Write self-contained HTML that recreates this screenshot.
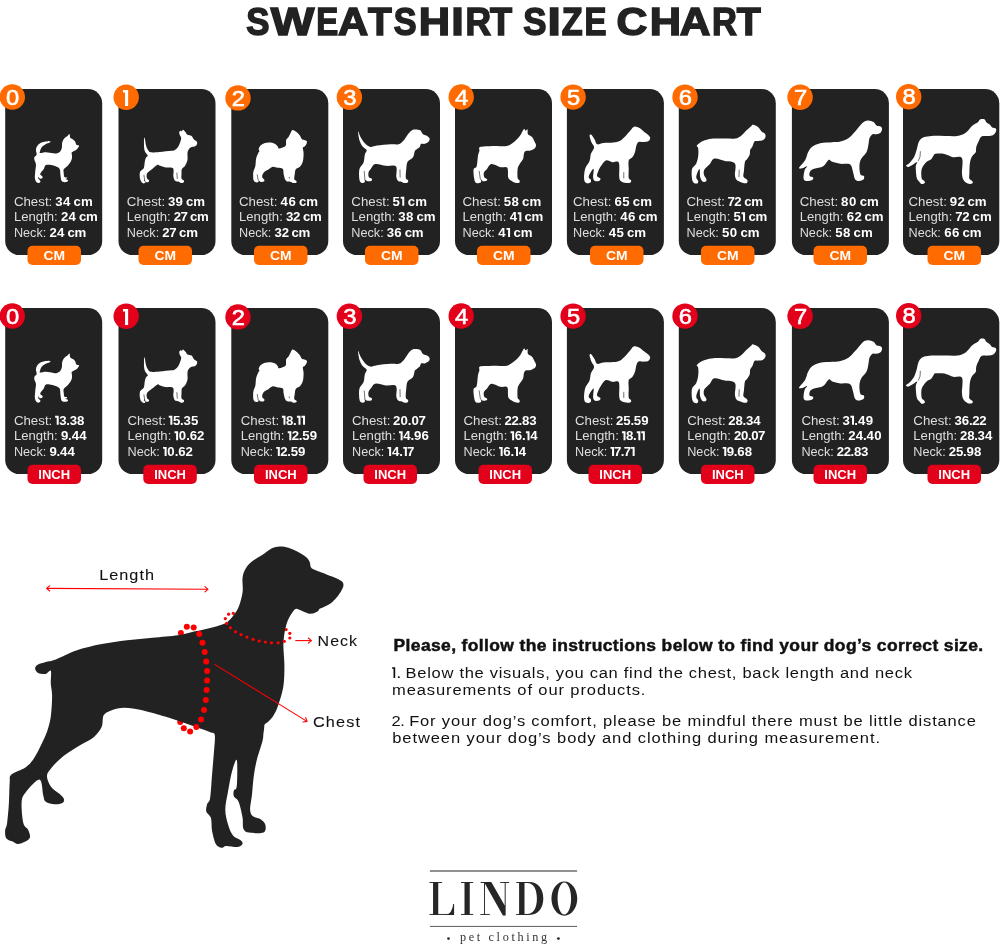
<!DOCTYPE html>
<html><head><meta charset="utf-8"><title>Sweatshirt Size Chart</title>
<style>html,body{margin:0;padding:0;background:#fff}body{width:1000px;height:944px;overflow:hidden;font-family:"Liberation Sans",sans-serif}svg{display:block;will-change:transform}text{font-family:"Liberation Sans",sans-serif}.serif{font-family:"Liberation Serif",serif}</style></head><body>
<svg width="1000" height="944" viewBox="0 0 1000 944">
<rect width="1000" height="944" fill="#ffffff"/>
<text transform="translate(246.35,34.8) scale(0.894,1)" font-size="39" font-weight="bold" fill="#222222" stroke="#222222" stroke-width="1.5" stroke-linejoin="miter">S</text>
<text transform="translate(270.70,34.8) scale(1.184,1)" font-size="39" font-weight="bold" fill="#222222" stroke="#222222" stroke-width="1.5" stroke-linejoin="miter">W</text>
<text transform="translate(316.14,34.8) scale(0.846,1)" font-size="39" font-weight="bold" fill="#222222" stroke="#222222" stroke-width="1.5" stroke-linejoin="miter">E</text>
<text transform="translate(338.11,34.8) scale(1.074,1)" font-size="39" font-weight="bold" fill="#222222" stroke="#222222" stroke-width="1.5" stroke-linejoin="miter">A</text>
<text transform="translate(367.91,34.8) scale(0.997,1)" font-size="39" font-weight="bold" fill="#222222" stroke="#222222" stroke-width="1.5" stroke-linejoin="miter">T</text>
<text transform="translate(393.76,34.8) scale(0.877,1)" font-size="39" font-weight="bold" fill="#222222" stroke="#222222" stroke-width="1.5" stroke-linejoin="miter">S</text>
<text transform="translate(418.85,34.8) scale(1.112,1)" font-size="39" font-weight="bold" fill="#222222" stroke="#222222" stroke-width="1.5" stroke-linejoin="miter">H</text>
<text transform="translate(451.33,34.8) scale(1.157,1)" font-size="39" font-weight="bold" fill="#222222" stroke="#222222" stroke-width="1.5" stroke-linejoin="miter">I</text>
<text transform="translate(465.38,34.8) scale(0.909,1)" font-size="39" font-weight="bold" fill="#222222" stroke="#222222" stroke-width="1.5" stroke-linejoin="miter">R</text>
<text transform="translate(489.94,34.8) scale(0.927,1)" font-size="39" font-weight="bold" fill="#222222" stroke="#222222" stroke-width="1.5" stroke-linejoin="miter">T</text>
<text transform="translate(523.35,34.8) scale(0.894,1)" font-size="39" font-weight="bold" fill="#222222" stroke="#222222" stroke-width="1.5" stroke-linejoin="miter">S</text>
<text transform="translate(547.55,34.8) scale(1.228,1)" font-size="39" font-weight="bold" fill="#222222" stroke="#222222" stroke-width="1.5" stroke-linejoin="miter">I</text>
<text transform="translate(561.73,34.8) scale(0.878,1)" font-size="39" font-weight="bold" fill="#222222" stroke="#222222" stroke-width="1.5" stroke-linejoin="miter">Z</text>
<text transform="translate(584.54,34.8) scale(0.846,1)" font-size="39" font-weight="bold" fill="#222222" stroke="#222222" stroke-width="1.5" stroke-linejoin="miter">E</text>
<text transform="translate(616.60,34.8) scale(1.094,1)" font-size="39" font-weight="bold" fill="#222222" stroke="#222222" stroke-width="1.5" stroke-linejoin="miter">C</text>
<text transform="translate(649.85,34.8) scale(1.112,1)" font-size="39" font-weight="bold" fill="#222222" stroke="#222222" stroke-width="1.5" stroke-linejoin="miter">H</text>
<text transform="translate(679.69,34.8) scale(1.089,1)" font-size="39" font-weight="bold" fill="#222222" stroke="#222222" stroke-width="1.5" stroke-linejoin="miter">A</text>
<text transform="translate(712.04,34.8) scale(0.885,1)" font-size="39" font-weight="bold" fill="#222222" stroke="#222222" stroke-width="1.5" stroke-linejoin="miter">R</text>
<text transform="translate(736.71,34.8) scale(1.006,1)" font-size="39" font-weight="bold" fill="#222222" stroke="#222222" stroke-width="1.5" stroke-linejoin="miter">T</text>
<defs>
<g id="d0"><path fill="#fff" d="M69.53,133.94C70,134.25 69.63,136.84 70.27,137.8C70.92,138.75 72.56,138.97 73.39,139.65C74.22,140.33 74.75,141.01 75.24,141.87C75.74,142.74 75.74,144.22 76.35,144.84C76.97,145.46 78.58,145.21 78.95,145.58C79.32,145.95 79.01,146.39 78.58,147.07C78.15,147.74 77.47,148.8 76.35,149.66C75.24,150.53 72.65,151.39 71.91,152.26C71.16,153.12 71.91,153.8 71.91,154.85C71.91,155.9 72.15,157.32 71.91,158.56C71.66,159.79 71.16,161.03 70.42,162.27C69.68,163.5 68.57,164.8 67.46,165.97C66.34,167.15 64.37,168.07 63.75,169.31C63.13,170.55 63.63,172.09 63.75,173.39C63.87,174.69 63.93,176.42 64.49,177.1C65.05,177.78 66.72,177.22 67.09,177.47C67.46,177.71 67,178.31 66.72,178.58C66.43,178.85 65.2,178.85 65.38,179.1C65.57,179.35 67.48,179.65 67.83,180.06C68.17,180.47 68.01,181.2 67.46,181.55C66.9,181.89 65.48,182.26 64.49,182.14C63.5,182.01 62.2,182.01 61.52,180.8C60.84,179.59 60.72,176.85 60.41,174.87C60.1,172.89 60.47,170.36 59.67,168.94C58.87,167.52 57.26,167.02 55.59,166.34C53.92,165.66 51.33,165.05 49.66,164.86C47.99,164.68 46.57,164.55 45.58,165.23C44.59,165.91 44.59,167.58 43.73,168.94C42.86,170.3 40.89,172.38 40.39,173.39C39.9,174.4 40.39,174.46 40.76,175.02C41.13,175.58 42.37,176.19 42.62,176.73C42.86,177.26 42.74,177.9 42.25,178.21C41.75,178.52 40.24,178.83 39.65,178.58C39.06,178.33 38.91,176.73 38.69,176.73C38.46,176.73 38.09,177.96 38.32,178.58C38.54,179.2 39.67,179.88 40.02,180.43C40.37,180.99 40.7,181.48 40.39,181.92C40.08,182.35 38.91,183.09 38.17,183.03C37.43,182.97 36.5,182.41 35.94,181.55C35.39,180.68 34.95,179.44 34.83,177.84C34.71,176.23 35.02,174.13 35.2,171.91C35.39,169.68 36.07,166.47 35.94,164.49C35.82,162.51 34.71,161.28 34.46,160.04C34.21,158.81 34.09,158 34.46,157.08C34.83,156.15 36.44,155.72 36.68,154.48C36.93,153.24 35.76,151.21 35.94,149.66C36.13,148.12 36.75,146.45 37.8,145.21C38.85,143.98 40.52,142.93 42.25,142.25C43.98,141.57 46.82,141.26 48.18,141.13C49.54,141.01 50.15,141.26 50.4,141.5C50.65,141.75 50.53,142.12 49.66,142.62C48.8,143.11 46.57,143.67 45.21,144.47C43.85,145.27 42.37,146.32 41.5,147.44C40.64,148.55 40.27,150.22 40.02,151.14C39.77,152.07 39.03,152.81 40.02,153C41.01,153.18 43.73,152.19 45.95,152.26C48.18,152.32 51.51,153.18 53.37,153.37C55.22,153.55 55.9,153.74 57.08,153.37C58.25,153 59.61,152.13 60.41,151.14C61.22,150.15 61.59,148.92 61.9,147.44C62.2,145.95 61.83,143.79 62.27,142.25C62.7,140.7 63.63,139.22 64.49,138.17C65.36,137.12 66.62,136.65 67.46,135.94C68.3,135.24 69.06,133.63 69.53,133.94Z"/></g>
<g id="d1"><path fill="#fff" d="M183.02,129.79C183.64,129.91 184.87,131.39 185.61,132.23C186.35,133.08 186.48,134.21 187.47,134.83C188.46,135.45 190.49,135.2 191.55,135.94C192.6,136.68 192.9,138.35 193.77,139.28C194.63,140.21 196.18,140.76 196.74,141.5C197.29,142.25 197.35,142.93 197.11,143.73C196.86,144.53 196.18,145.77 195.25,146.32C194.33,146.88 192.66,146.51 191.55,147.07C190.43,147.62 189.26,148.61 188.58,149.66C187.9,150.71 187.65,151.64 187.47,153.37C187.28,155.1 187.9,157.94 187.47,160.04C187.03,162.14 185.8,164.49 184.87,165.97C183.94,167.46 182.46,167.7 181.91,168.94C181.35,170.18 181.6,171.78 181.53,173.39C181.47,175 181.16,177.41 181.53,178.58C181.91,179.75 183.39,179.82 183.76,180.43C184.13,181.05 184.19,181.85 183.76,182.29C183.33,182.72 182.09,183.15 181.16,183.03C180.24,182.9 179.06,181.85 178.2,181.55C177.33,181.24 176.59,181.42 175.97,181.17C175.36,180.93 174.92,180.87 174.49,180.06C174.06,179.26 173.63,178.33 173.38,176.35C173.13,174.38 174.31,169.68 173.01,168.2C171.71,166.72 167.82,167.89 165.59,167.46C163.37,167.02 161.02,166.04 159.66,165.6C158.3,165.17 158.67,164.31 157.44,164.86C156.2,165.42 153.98,167.52 152.25,168.94C150.52,170.36 147.92,171.78 147.05,173.39C146.19,175 146.75,177.47 147.05,178.58C147.36,179.69 148.66,179.51 148.91,180.06C149.16,180.62 149.03,181.61 148.54,181.92C148.04,182.23 146.62,182.29 145.94,181.92C145.26,181.55 144.77,179.88 144.46,179.69C144.15,179.51 143.9,180.37 144.09,180.8C144.27,181.24 145.63,181.85 145.57,182.29C145.51,182.72 144.4,183.46 143.72,183.4C143.04,183.34 142.11,182.72 141.49,181.92C140.88,181.11 140.26,180.25 140.01,178.58C139.76,176.91 139.39,173.64 140.01,171.91C140.63,170.18 142.91,169.93 143.72,168.2C144.52,166.47 144.46,163.25 144.83,161.52C145.2,159.79 145.45,158.81 145.94,157.82C146.44,156.83 147.92,156.58 147.8,155.59C147.67,154.6 145.82,153.24 145.2,151.88C144.58,150.53 144.27,149.66 144.09,147.44C143.9,145.21 143.97,140.02 144.09,138.54C144.21,137.05 144.52,137.43 144.83,138.54C145.14,139.65 145.45,143.36 145.94,145.21C146.44,147.07 146.99,148.49 147.8,149.66C148.6,150.83 148.78,151.88 150.76,152.26C152.74,152.63 156.2,152.13 159.66,151.88C163.12,151.64 168.93,151.14 171.52,150.77C174.12,150.4 174.12,150.34 175.23,149.66C176.34,148.98 177.33,148.05 178.2,146.69C179.06,145.33 179.93,142.99 180.42,141.5C180.92,140.02 181.29,138.91 181.16,137.8C181.04,136.68 179.99,135.82 179.68,134.83C179.37,133.84 179.06,132.54 179.31,131.86C179.56,131.18 180.73,130.81 181.16,130.75C181.6,130.69 181.6,131.65 181.91,131.49C182.21,131.33 182.4,129.66 183.02,129.79Z"/><polyline points="143.94,175.24 144.68,180.21" fill="none" stroke="#222" stroke-width="0.75" stroke-linecap="round" stroke-opacity="0.85"/><polyline points="176.86,173.02 177.31,178.58" fill="none" stroke="#222" stroke-width="0.75" stroke-linecap="round" stroke-opacity="0.85"/></g>
<g id="d2"><path fill="#fff" d="M292.46,130.01C293.38,129.83 294.93,130.94 296.16,131.86C297.4,132.79 298.94,134.4 299.87,135.57C300.8,136.75 300.98,138.17 301.73,138.91C302.47,139.65 303.46,139.59 304.32,140.02C305.19,140.45 306.61,140.76 306.92,141.5C307.23,142.25 306.61,143.6 306.17,144.47C305.74,145.33 304.88,146.14 304.32,146.69C303.76,147.25 302.96,146.69 302.84,147.81C302.71,148.92 303.58,151.08 303.58,153.37C303.58,155.65 303.46,159.3 302.84,161.52C302.22,163.75 301.05,165.42 299.87,166.72C298.7,168.01 296.66,167.95 295.79,169.31C294.93,170.67 294.93,173.2 294.68,174.87C294.43,176.54 294,178.27 294.31,179.32C294.62,180.37 296.23,180.62 296.53,181.17C296.84,181.73 296.72,182.35 296.16,182.66C295.61,182.97 294.06,183.15 293.2,183.03C292.33,182.9 291.96,182.16 290.97,181.92C289.98,181.67 288.25,181.98 287.27,181.55C286.28,181.11 285.66,180.68 285.04,179.32C284.42,177.96 283.93,175.12 283.56,173.39C283.19,171.66 283.81,169.87 282.82,168.94C281.83,168.01 279.29,168.2 277.63,167.83C275.96,167.46 274.29,166.47 272.81,166.72C271.32,166.96 270.15,168.45 268.73,169.31C267.31,170.18 265.33,170.98 264.28,171.91C263.23,172.83 262.73,173.88 262.43,174.87C262.12,175.86 262.12,177.03 262.43,177.84C262.73,178.64 264.03,179.07 264.28,179.69C264.53,180.31 264.46,181.17 263.91,181.55C263.35,181.92 261.81,182.1 260.94,181.92C260.08,181.73 259.15,180.43 258.72,180.43C258.29,180.43 258.84,181.61 258.35,181.92C257.85,182.23 256.56,182.6 255.75,182.29C254.95,181.98 253.96,181.3 253.53,180.06C253.09,178.83 253.16,176.35 253.16,174.87C253.16,173.39 253.16,172.65 253.53,171.16C253.9,169.68 254.95,168.07 255.38,165.97C255.81,163.87 255.63,160.78 256.12,158.56C256.62,156.33 257.79,153.86 258.35,152.63C258.9,151.39 259.4,151.76 259.46,151.14C259.52,150.53 258.53,149.85 258.72,148.92C258.9,147.99 259.64,146.51 260.57,145.58C261.5,144.66 262.8,143.85 264.28,143.36C265.76,142.86 267.74,142.55 269.47,142.62C271.2,142.68 273.3,143.11 274.66,143.73C276.02,144.35 276.95,145.52 277.63,146.32C278.31,147.13 278,148.3 278.74,148.55C279.48,148.8 280.9,148.3 282.08,147.81C283.25,147.31 285.1,146.88 285.78,145.58C286.46,144.28 285.66,141.5 286.15,140.02C286.65,138.54 288.01,137.86 288.75,136.68C289.49,135.51 289.98,134.09 290.6,132.98C291.22,131.86 291.53,130.2 292.46,130.01Z"/><polyline points="257.23,174.87 258.20,180.21" fill="none" stroke="#222" stroke-width="0.75" stroke-linecap="round" stroke-opacity="0.85"/><polyline points="289.27,177.24 289.42,178.13" fill="none" stroke="#222" stroke-width="0.75" stroke-linecap="round" stroke-opacity="0.85"/></g>
<g id="d3"><path fill="#fff" d="M414.83,129.41C416.33,129.33 418.88,129.48 420.23,130.31C421.58,131.13 421.73,133.38 422.93,134.36C424.13,135.33 426.31,135.41 427.44,136.16C428.56,136.91 429.54,137.89 429.69,138.86C429.84,139.84 429.16,141.19 428.34,142.01C427.51,142.84 425.93,143.51 424.73,143.81C423.53,144.11 421.96,143.29 421.13,143.81C420.31,144.34 420.46,146.09 419.78,146.96C419.11,147.84 417.91,148.36 417.08,149.04C416.26,149.71 415.51,149.64 414.83,151.02C414.15,152.4 414.23,155.52 413.03,157.32C411.83,159.12 408.75,159.87 407.63,161.82C406.5,163.77 406.58,166.32 406.28,169.02C405.98,171.73 405.53,176.15 405.83,178.03C406.13,179.9 407.78,179.53 408.08,180.28C408.38,181.03 408.3,182.08 407.63,182.53C406.95,182.98 405.08,183.13 404.02,182.98C402.97,182.83 402.22,181.93 401.32,181.63C400.42,181.33 399.45,181.93 398.62,181.18C397.8,180.43 396.82,179.6 396.37,177.13C395.92,174.65 397.65,168.2 395.92,166.32C394.2,164.45 389.47,166.25 386.02,165.87C382.56,165.5 377.76,163.55 375.21,164.07C372.66,164.6 371.84,167.6 370.71,169.02C369.58,170.45 368.76,171.28 368.46,172.63C368.16,173.98 368.38,176.15 368.91,177.13C369.43,178.1 371.16,177.88 371.61,178.48C372.06,179.08 372.29,180.28 371.61,180.73C370.93,181.18 368.68,181.33 367.56,181.18C366.43,181.03 365.31,179.68 364.86,179.83C364.41,179.98 365.38,181.56 364.86,182.08C364.33,182.61 362.61,183.36 361.71,182.98C360.8,182.61 359.83,182.16 359.45,179.83C359.08,177.5 358.78,171.88 359.45,169.02C360.13,166.17 362.61,165.12 363.51,162.72C364.41,160.32 364.33,156.72 364.86,154.62C365.38,152.52 367.03,151.47 366.66,150.12C366.28,148.77 363.81,148.17 362.61,146.51C361.41,144.86 360.2,142.76 359.45,140.21C358.7,137.66 357.88,131.66 358.1,131.21C358.33,130.76 359.68,135.48 360.8,137.51C361.93,139.54 363.28,141.79 364.86,143.36C366.43,144.94 368.23,146.59 370.26,146.96C372.29,147.34 373.64,146.06 377.01,145.61C380.39,145.16 386.92,144.49 390.52,144.26C394.12,144.04 396.52,144.79 398.62,144.26C400.72,143.74 401.62,142.69 403.12,141.11C404.63,139.54 406.28,136.53 407.63,134.81C408.98,133.08 410.03,131.66 411.23,130.76C412.43,129.86 413.33,129.48 414.83,129.41Z"/><polyline points="364.23,171.28 364.95,180.01" fill="none" stroke="#222" stroke-width="0.75" stroke-linecap="round" stroke-opacity="0.85"/><polyline points="399.97,169.93 400.15,177.13" fill="none" stroke="#222" stroke-width="0.75" stroke-linecap="round" stroke-opacity="0.85"/></g>
<g id="d4"><path fill="#fff" d="M524.38,128.96C524.83,129.03 525.2,130.68 525.73,130.76C526.26,130.83 527.16,128.81 527.53,129.41C527.91,130.01 527.23,133.08 527.98,134.36C528.73,135.63 530.91,135.78 532.03,137.06C533.16,138.34 534.06,140.59 534.73,142.01C535.41,143.44 536.16,144.49 536.08,145.61C536.01,146.74 535.26,147.94 534.28,148.77C533.31,149.59 531.66,150.19 530.23,150.57C528.81,150.94 526.78,150.49 525.73,151.02C524.68,151.54 524.38,152.37 523.93,153.72C523.48,155.07 523.78,157.32 523.03,159.12C522.28,160.92 520.33,162.87 519.43,164.52C518.53,166.17 517.93,166.77 517.63,169.02C517.33,171.28 517.33,176.15 517.63,178.03C517.93,179.9 519.13,179.53 519.43,180.28C519.73,181.03 519.95,182.08 519.43,182.53C518.9,182.98 517.63,183.28 516.28,182.98C514.93,182.68 512.67,181.71 511.32,180.73C509.97,179.75 508.85,179.3 508.17,177.13C507.5,174.95 508.55,169.32 507.27,167.67C506,166.02 503.14,167.82 500.52,167.22C497.89,166.62 493.77,163.77 491.51,164.07C489.26,164.37 488.29,167.6 487.01,169.02C485.74,170.45 484.31,171.28 483.86,172.63C483.41,173.98 483.79,176.08 484.31,177.13C484.84,178.18 486.64,178.33 487.01,178.93C487.39,179.53 487.24,180.36 486.56,180.73C485.89,181.11 483.94,181.41 482.96,181.18C481.99,180.96 481.01,179.23 480.71,179.38C480.41,179.53 481.61,181.44 481.16,182.08C480.71,182.73 479.06,183.4 478.01,183.25C476.96,183.1 475.61,183.4 474.86,181.18C474.11,178.96 473.21,172.4 473.51,169.93C473.81,167.45 475.91,168.72 476.66,166.32C477.41,163.92 477.56,158.07 478.01,155.52C478.46,152.97 479.13,152.37 479.36,151.02C479.58,149.67 478.68,148.17 479.36,147.41C480.03,146.66 480.63,146.74 483.41,146.51C486.19,146.29 492.11,146.14 496.02,146.06C499.92,145.99 503.82,146.74 506.82,146.06C509.82,145.39 511.92,143.59 514.02,142.01C516.13,140.44 517.93,138.56 519.43,136.61C520.93,134.66 522.2,131.58 523.03,130.31C523.85,129.03 523.93,128.88 524.38,128.96Z"/><polyline points="479.18,171.28 480.35,179.11" fill="none" stroke="#222" stroke-width="0.75" stroke-linecap="round" stroke-opacity="0.85"/></g>
<g id="d5"><path fill="#fff" d="M634.13,126.71C635.63,126.33 637.88,127.23 639.53,128.06C641.18,128.88 642.53,130.46 644.03,131.66C645.53,132.86 647.51,134.21 648.54,135.26C649.56,136.31 650.16,136.99 650.16,137.96C650.16,138.94 649.56,140.44 648.54,141.11C647.51,141.79 645.68,141.86 644.03,142.01C642.38,142.16 639.91,141.41 638.63,142.01C637.36,142.61 636.98,143.96 636.38,145.61C635.78,147.26 635.7,149.97 635.03,151.92C634.35,153.87 633.38,155.89 632.33,157.32C631.28,158.75 629.33,158.52 628.73,160.47C628.13,162.42 628.73,166.1 628.73,169.02C628.73,171.95 628.35,176.15 628.73,178.03C629.1,179.9 630.68,179.53 630.98,180.28C631.28,181.03 631.35,182.08 630.53,182.53C629.7,182.98 627.6,183.21 626.02,182.98C624.45,182.76 622.2,182.16 621.07,181.18C619.95,180.2 619.65,180.2 619.27,177.13C618.9,174.05 619.95,165.2 618.82,162.72C617.7,160.25 614.69,162.65 612.52,162.27C610.34,161.9 607.72,159.8 605.77,160.47C603.81,161.15 602.16,164.3 600.81,166.32C599.46,168.35 598.26,170.98 597.66,172.63C597.06,174.28 596.76,175.25 597.21,176.23C597.66,177.2 599.99,177.73 600.36,178.48C600.74,179.23 600.29,180.28 599.46,180.73C598.64,181.18 596.46,181.63 595.41,181.18C594.36,180.73 593.46,180.05 593.16,178.03C592.86,176 594.06,169.93 593.61,169.02C593.16,168.12 591.28,171.28 590.46,172.63C589.63,173.98 588.58,175.93 588.66,177.13C588.73,178.33 590.61,178.93 590.91,179.83C591.21,180.73 591.13,181.96 590.46,182.53C589.78,183.1 587.91,183.7 586.86,183.25C585.81,182.8 584.46,182.2 584.16,179.83C583.86,177.46 584.16,172.18 585.06,169.02C585.96,165.87 588.58,163.47 589.56,160.92C590.53,158.37 590.16,155.97 590.91,153.72C591.66,151.47 593.99,149.37 594.06,147.41C594.14,145.46 592.11,143.96 591.36,142.01C590.61,140.06 589.56,136.91 589.56,135.71C589.56,134.51 590.53,134.21 591.36,134.81C592.18,135.41 593.53,137.74 594.51,139.31C595.49,140.89 595.71,143.66 597.21,144.26C598.71,144.86 600.81,143.21 603.51,142.91C606.22,142.61 610.72,142.76 613.42,142.46C616.12,142.16 617.77,142.09 619.72,141.11C621.67,140.14 623.32,138.41 625.12,136.61C626.93,134.81 629.03,131.96 630.53,130.31C632.03,128.66 632.63,127.08 634.13,126.71Z"/><polyline points="623.77,172.63 623.77,178.03" fill="none" stroke="#222" stroke-width="0.75" stroke-linecap="round" stroke-opacity="0.85"/></g>
<g id="d6"><path fill="#fff" d="M753.03,124.78C754.22,124.94 756.84,126.05 758.27,127.16C759.7,128.27 760.49,130.34 761.61,131.45C762.72,132.56 764.31,132.88 764.94,133.83C765.58,134.79 765.74,136.14 765.42,137.17C765.1,138.2 764.23,139.4 763.04,140.03C761.85,140.67 759.7,140.75 758.27,140.98C756.84,141.22 755.41,140.59 754.46,141.46C753.5,142.34 753.27,144.8 752.55,146.23C751.84,147.66 750.64,148.61 750.17,150.04C749.69,151.47 750.25,153.22 749.69,154.81C749.13,156.4 747.62,158.38 746.83,159.58C746.04,160.77 745.4,160.05 744.92,161.96C744.45,163.87 744.21,168.55 743.97,171.02C743.73,173.48 742.94,175.23 743.49,176.74C744.05,178.25 746.75,179.04 747.31,180.07C747.86,181.11 747.54,182.46 746.83,182.93C746.11,183.41 744.29,183.17 743.02,182.93C741.75,182.7 740.32,182.06 739.2,181.5C738.09,180.95 737.06,180.71 736.34,179.6C735.63,178.48 735.15,177.53 734.91,174.83C734.67,172.13 736.58,165.69 734.91,163.39C733.24,161.09 728.32,161.8 724.9,161.01C721.49,160.21 716.96,158.07 714.41,158.62C711.87,159.18 711.32,162.52 709.65,164.34C707.98,166.17 705.36,167.84 704.4,169.59C703.45,171.33 703.61,173.24 703.93,174.83C704.25,176.42 705.99,178.01 706.31,179.12C706.63,180.23 706.47,181.11 705.83,181.5C705.2,181.9 703.45,182.3 702.5,181.5C701.54,180.71 700.59,178.8 700.11,176.74C699.64,174.67 700.11,169.75 699.64,169.11C699.16,168.47 697.81,171.49 697.25,172.92C696.7,174.35 696.14,176.34 696.3,177.69C696.46,179.04 698.05,180.07 698.21,181.03C698.37,181.98 697.97,183.09 697.25,183.41C696.54,183.73 694.79,183.73 693.92,182.93C693.04,182.14 692.33,180.95 692.01,178.64C691.69,176.34 691.3,171.65 692.01,169.11C692.73,166.57 695.27,165.61 696.3,163.39C697.33,161.16 697.89,158.3 698.21,155.76C698.53,153.22 698.45,149.8 698.21,148.14C697.97,146.47 696.54,146.63 696.78,145.75C697.02,144.88 698.13,143.84 699.64,142.89C701.15,141.94 703.53,140.75 705.83,140.03C708.14,139.32 710.28,138.84 713.46,138.6C716.64,138.36 721.25,138.6 724.9,138.6C728.56,138.6 732.69,139.08 735.39,138.6C738.09,138.12 739.2,137.17 741.11,135.74C743.02,134.31 745.16,131.61 746.83,130.02C748.5,128.43 750.09,127.08 751.12,126.21C752.15,125.33 751.84,124.62 753.03,124.78Z"/><polyline points="739.20,170.06 739.01,176.74" fill="none" stroke="#222" stroke-width="0.75" stroke-linecap="round" stroke-opacity="0.85"/></g>
<g id="d7"><path fill="#fff" d="M868.48,120.57C869.91,120.7 872.17,121.24 873.51,122.08C874.86,122.91 875.36,124.84 876.53,125.6C877.71,126.35 879.64,126.02 880.56,126.6C881.48,127.19 882.07,128.11 882.07,129.12C882.07,130.13 881.48,131.8 880.56,132.64C879.64,133.48 877.87,133.9 876.53,134.15C875.19,134.4 873.68,133.48 872.51,134.15C871.33,134.82 870.16,136.5 869.49,138.18C868.82,139.85 868.99,141.87 868.48,144.22C867.98,146.56 867.73,149.75 866.47,152.27C865.21,154.78 862.11,156.96 860.93,159.31C859.76,161.66 859.51,163.84 859.42,166.36C859.34,168.87 859.68,172.81 860.43,174.41C861.19,176 863.45,175.08 863.95,175.92C864.46,176.75 864.37,178.6 863.45,179.44C862.53,180.28 859.84,181.03 858.42,180.95C856.99,180.86 855.82,180.53 854.9,178.93C853.97,177.34 853.72,173.82 852.88,171.39C852.04,168.95 851.96,165.6 849.86,164.34C847.77,163.08 843.24,164.26 840.3,163.84C837.37,163.42 834.18,162.5 832.25,161.83C830.32,161.16 830.24,159.06 828.73,159.81C827.22,160.57 825.63,164.85 823.2,166.36C820.76,167.86 816.32,168.03 814.14,168.87C811.96,169.71 810.87,170.21 810.11,171.39C809.36,172.56 809.11,174.91 809.61,175.92C810.11,176.92 812.71,176.75 813.13,177.42C813.55,178.1 813.3,179.35 812.13,179.94C810.95,180.53 807.51,181.2 806.09,180.95C804.66,180.7 803.82,180.19 803.57,178.43C803.32,176.67 803.99,172.39 804.58,170.38C805.17,168.37 807.51,166.69 807.1,166.36C806.68,166.02 803.41,168.12 802.06,168.37C800.72,168.62 798.54,169.21 799.04,167.86C799.55,166.52 803.57,162.92 805.08,160.32C806.59,157.72 806.93,154.53 808.1,152.27C809.28,150 810.11,148.24 812.13,146.73C814.14,145.22 816.82,143.96 820.18,143.21C823.53,142.45 829.07,142.45 832.25,142.2C835.44,141.95 836.61,142.37 839.3,141.7C841.98,141.03 845.67,139.94 848.36,138.18C851.04,136.42 853.22,133.48 855.4,131.13C857.58,128.79 859.84,125.73 861.44,124.09C863.03,122.45 863.79,121.86 864.96,121.27C866.13,120.68 867.06,120.43 868.48,120.57Z"/></g>
<g id="d8"><path fill="#fff" d="M981.57,119C982.45,118.92 983.95,119 984.75,119.53C985.54,120.06 985.45,121.3 986.33,122.18C987.22,123.06 989.07,123.95 990.04,124.83C991.01,125.71 991.19,126.86 992.16,127.48C993.13,128.1 995.25,127.83 995.87,128.54C996.49,129.24 996.31,130.66 995.87,131.72C995.43,132.78 994.54,134.19 993.22,134.89C991.9,135.6 989.87,135.69 987.92,135.95C985.98,136.22 983.07,135.69 981.57,136.48C980.07,137.28 979.8,138.95 978.92,140.72C978.04,142.49 976.8,145.13 976.27,147.08C975.74,149.02 976.45,150.78 975.74,152.37C975.04,153.96 973,154.84 972.03,156.61C971.06,158.38 970.36,160.14 969.92,162.97C969.47,165.79 969.47,170.91 969.39,173.56C969.3,176.21 968.86,177.53 969.39,178.86C969.92,180.18 972.12,180.71 972.56,181.5C973,182.3 972.83,183.27 972.03,183.62C971.24,183.98 969.21,184.24 967.8,183.62C966.38,183 964.53,181.59 963.56,179.92C962.59,178.24 962.24,177.18 961.97,173.56C961.71,169.94 963.47,160.94 961.97,158.2C960.47,155.46 955.88,157.85 952.97,157.14C950.05,156.43 947.39,154.53 944.49,153.96C941.6,153.4 937.39,153.5 935.59,153.75C933.79,154 934.43,154.53 933.69,155.44C932.94,156.36 932.31,158.2 931.14,159.26C929.98,160.32 927.97,160.74 926.69,161.8C925.42,162.86 924.36,164.34 923.52,165.61C922.67,166.89 921.98,167.94 921.61,169.43C921.24,170.91 921.24,172.92 921.29,174.51C921.35,176.1 921.45,177.9 921.93,178.96C922.4,180.02 923.68,180.18 924.15,180.87C924.63,181.56 925.21,182.56 924.79,183.09C924.36,183.62 922.56,184.31 921.61,184.05C920.66,183.78 919.86,182.46 919.07,181.5C918.27,180.55 917.37,180.13 916.84,178.33C916.31,176.53 916.05,172.82 915.89,170.7C915.73,168.58 915.68,167.08 915.89,165.61C916.1,164.15 917.69,162.07 917.16,161.91C916.63,161.75 914.19,163.83 912.71,164.66C911.23,165.49 909.38,166.73 908.26,166.89C907.15,167.04 905.83,166.27 906.04,165.61C906.25,164.96 908.21,164.34 909.53,162.97C910.86,161.59 912.82,159.45 913.98,157.35C915.15,155.25 915.78,152.8 916.53,150.36C917.27,147.92 917.74,144.6 918.43,142.73C919.12,140.86 919.67,140.08 920.66,139.13C921.65,138.18 922.51,137.54 924.36,137.01C926.22,136.48 928.43,136.13 931.78,135.95C935.13,135.78 940.25,135.95 944.49,135.95C948.73,135.95 953.67,136.48 957.2,135.95C960.73,135.42 963.21,134.45 965.68,132.78C968.15,131.1 970,127.66 972.03,125.89C974.06,124.12 976.62,123.15 977.86,122.18C979.1,121.21 978.83,120.59 979.45,120.06C980.07,119.53 980.69,119.09 981.57,119Z"/><polyline points="920.34,151.63 920.02,156.72 918.43,160.53" fill="none" stroke="#222" stroke-width="0.75" stroke-linecap="round" stroke-opacity="0.85"/></g>
</defs>
<rect x="5.2" y="89.1" width="97" height="166.0" rx="14.2" ry="14.2" fill="#222222"/>
<use href="#d0" transform="translate(0,0.0)"/>
<circle cx="12.3" cy="97.0" r="12.7" fill="#FF6B00"/>
<text x="12.7" y="104.6" font-size="22.6" font-weight="normal" fill="#fff" text-anchor="middle" textLength="13.2" lengthAdjust="spacingAndGlyphs" stroke="#fff" stroke-width="0.6">0</text>
<text x="13.9" y="205.8" font-size="12.6" font-weight="normal" fill="#dedede" text-anchor="start" textLength="38.4" lengthAdjust="spacingAndGlyphs">Chest:</text>
<text transform="translate(55.10,205.80) scale(1.05,1)" x="0.09 7.50 17.63 24.65" font-size="12.6" font-weight="bold" fill="#fff">34cm</text>
<text x="13.9" y="221.3" font-size="12.6" font-weight="normal" fill="#dedede" text-anchor="start" textLength="43.8" lengthAdjust="spacingAndGlyphs">Length:</text>
<text transform="translate(60.90,221.35) scale(1.05,1)" x="-0.03 7.19 17.13 23.99" font-size="12.6" font-weight="bold" fill="#fff">24cm</text>
<text x="13.9" y="236.9" font-size="12.6" font-weight="normal" fill="#dedede" text-anchor="start" textLength="32.4" lengthAdjust="spacingAndGlyphs">Neck:</text>
<text transform="translate(49.40,236.90) scale(1.05,1)" x="-0.03 7.19 17.13 23.99" font-size="12.6" font-weight="bold" fill="#fff">24cm</text>
<rect x="27.5" y="245.7" width="53.5" height="19.3" rx="5" ry="5" fill="#FF6B00"/>
<text x="54.2" y="259.6" font-size="11.9" font-weight="bold" fill="#fff" text-anchor="middle" textLength="21.6" lengthAdjust="spacingAndGlyphs">CM</text>
<rect x="118.5" y="89.1" width="97" height="166.0" rx="14.2" ry="14.2" fill="#222222"/>
<use href="#d1" transform="translate(0,0.0)"/>
<circle cx="126.2" cy="97.2" r="12.7" fill="#FF6B00"/>
<path d="M122.95,90.10H128.15V105.90H125.05V92.45H122.95Z" fill="#fff"/>
<text x="126.8" y="205.8" font-size="12.6" font-weight="normal" fill="#dedede" text-anchor="start" textLength="38.4" lengthAdjust="spacingAndGlyphs">Chest:</text>
<text transform="translate(168.00,205.80) scale(1.05,1)" x="0.03 7.23 17.08 23.97" font-size="12.6" font-weight="bold" fill="#fff">39cm</text>
<text x="126.8" y="221.3" font-size="12.6" font-weight="normal" fill="#dedede" text-anchor="start" textLength="43.8" lengthAdjust="spacingAndGlyphs">Length:</text>
<text transform="translate(173.80,221.35) scale(1.05,1)" x="-0.13 6.38 15.54 22.15" font-size="12.6" font-weight="bold" fill="#fff">27cm</text>
<text x="126.8" y="236.9" font-size="12.6" font-weight="normal" fill="#dedede" text-anchor="start" textLength="32.4" lengthAdjust="spacingAndGlyphs">Neck:</text>
<text transform="translate(162.30,236.90) scale(1.05,1)" x="-0.06 6.58 15.92 22.71" font-size="12.6" font-weight="bold" fill="#fff">27cm</text>
<rect x="138.5" y="245.7" width="53.5" height="19.3" rx="5" ry="5" fill="#FF6B00"/>
<text x="165.2" y="259.6" font-size="11.9" font-weight="bold" fill="#fff" text-anchor="middle" textLength="21.6" lengthAdjust="spacingAndGlyphs">CM</text>
<rect x="231.3" y="89.1" width="97" height="166.0" rx="14.2" ry="14.2" fill="#222222"/>
<use href="#d2" transform="translate(0,0.0)"/>
<circle cx="238.0" cy="97.9" r="12.7" fill="#FF6B00"/>
<text x="238.4" y="105.5" font-size="22.6" font-weight="normal" fill="#fff" text-anchor="middle" textLength="13.2" lengthAdjust="spacingAndGlyphs" stroke="#fff" stroke-width="0.6">2</text>
<text x="239.0" y="205.8" font-size="12.6" font-weight="normal" fill="#dedede" text-anchor="start" textLength="38.4" lengthAdjust="spacingAndGlyphs">Chest:</text>
<text transform="translate(280.20,205.80) scale(1.05,1)" x="0.33 7.87 17.89 24.93" font-size="12.6" font-weight="bold" fill="#fff">46cm</text>
<text x="239.0" y="221.3" font-size="12.6" font-weight="normal" fill="#dedede" text-anchor="start" textLength="43.8" lengthAdjust="spacingAndGlyphs">Length:</text>
<text transform="translate(286.00,221.35) scale(1.05,1)" x="-0.07 6.75 16.16 22.80" font-size="12.6" font-weight="bold" fill="#fff">32cm</text>
<text x="239.0" y="236.9" font-size="12.6" font-weight="normal" fill="#dedede" text-anchor="start" textLength="32.4" lengthAdjust="spacingAndGlyphs">Neck:</text>
<text transform="translate(274.50,236.90) scale(1.05,1)" x="-0.05 6.81 16.27 22.96" font-size="12.6" font-weight="bold" fill="#fff">32cm</text>
<rect x="254.0" y="245.7" width="53.5" height="19.3" rx="5" ry="5" fill="#FF6B00"/>
<text x="280.8" y="259.6" font-size="11.9" font-weight="bold" fill="#fff" text-anchor="middle" textLength="21.6" lengthAdjust="spacingAndGlyphs">CM</text>
<rect x="343.0" y="89.1" width="97" height="166.0" rx="14.2" ry="14.2" fill="#222222"/>
<use href="#d3" transform="translate(0,0.0)"/>
<circle cx="349.4" cy="97.3" r="12.7" fill="#FF6B00"/>
<text x="349.8" y="104.9" font-size="22.6" font-weight="normal" fill="#fff" text-anchor="middle" textLength="13.2" lengthAdjust="spacingAndGlyphs" stroke="#fff" stroke-width="0.6">3</text>
<text x="351.3" y="205.8" font-size="12.6" font-weight="normal" fill="#dedede" text-anchor="start" textLength="38.4" lengthAdjust="spacingAndGlyphs">Chest:</text>
<text transform="translate(392.50,205.80) scale(1.05,1)" x="0.09 14.57 21.60" font-size="12.6" font-weight="bold" fill="#fff">5cm</text>
<path d="M400.65,196.78H404.25V205.80H402.25V198.68H400.65Z" fill="#fff"/>
<text x="351.3" y="221.3" font-size="12.6" font-weight="normal" fill="#dedede" text-anchor="start" textLength="43.8" lengthAdjust="spacingAndGlyphs">Length:</text>
<text transform="translate(398.30,221.35) scale(1.05,1)" x="0.06 7.31 17.25 24.22" font-size="12.6" font-weight="bold" fill="#fff">38cm</text>
<text x="351.3" y="236.9" font-size="12.6" font-weight="normal" fill="#dedede" text-anchor="start" textLength="32.4" lengthAdjust="spacingAndGlyphs">Neck:</text>
<text transform="translate(386.80,236.90) scale(1.05,1)" x="0.03 7.20 17.03 23.89" font-size="12.6" font-weight="bold" fill="#fff">36cm</text>
<rect x="365.0" y="245.7" width="53.5" height="19.3" rx="5" ry="5" fill="#FF6B00"/>
<text x="391.8" y="259.6" font-size="11.9" font-weight="bold" fill="#fff" text-anchor="middle" textLength="21.6" lengthAdjust="spacingAndGlyphs">CM</text>
<rect x="455.0" y="89.1" width="97" height="166.0" rx="14.2" ry="14.2" fill="#222222"/>
<use href="#d4" transform="translate(0,0.0)"/>
<circle cx="461.2" cy="97.0" r="12.7" fill="#FF6B00"/>
<text x="461.6" y="104.6" font-size="22.6" font-weight="normal" fill="#fff" text-anchor="middle" textLength="13.2" lengthAdjust="spacingAndGlyphs" stroke="#fff" stroke-width="0.6">4</text>
<text x="462.5" y="205.8" font-size="12.6" font-weight="normal" fill="#dedede" text-anchor="start" textLength="38.4" lengthAdjust="spacingAndGlyphs">Chest:</text>
<text transform="translate(503.70,205.80) scale(1.05,1)" x="0.09 7.40 17.42 24.46" font-size="12.6" font-weight="bold" fill="#fff">58cm</text>
<text x="462.5" y="221.3" font-size="12.6" font-weight="normal" fill="#dedede" text-anchor="start" textLength="43.8" lengthAdjust="spacingAndGlyphs">Length:</text>
<text transform="translate(509.50,221.35) scale(1.05,1)" x="0.18 14.36 21.05" font-size="12.6" font-weight="bold" fill="#fff">4cm</text>
<path d="M517.76,212.33H521.36V221.35H519.36V214.23H517.76Z" fill="#fff"/>
<text x="462.5" y="236.9" font-size="12.6" font-weight="normal" fill="#dedede" text-anchor="start" textLength="32.4" lengthAdjust="spacingAndGlyphs">Neck:</text>
<text transform="translate(498.00,236.90) scale(1.05,1)" x="0.26 14.73 21.60" font-size="12.6" font-weight="bold" fill="#fff">4cm</text>
<path d="M506.47,227.88H510.07V236.90H508.07V229.78H506.47Z" fill="#fff"/>
<rect x="477.0" y="245.7" width="53.5" height="19.3" rx="5" ry="5" fill="#FF6B00"/>
<text x="503.8" y="259.6" font-size="11.9" font-weight="bold" fill="#fff" text-anchor="middle" textLength="21.6" lengthAdjust="spacingAndGlyphs">CM</text>
<rect x="566.9" y="89.1" width="97" height="166.0" rx="14.2" ry="14.2" fill="#222222"/>
<use href="#d5" transform="translate(0,0.0)"/>
<circle cx="573.1" cy="97.1" r="12.7" fill="#FF6B00"/>
<text x="573.5" y="104.7" font-size="22.6" font-weight="normal" fill="#fff" text-anchor="middle" textLength="13.2" lengthAdjust="spacingAndGlyphs" stroke="#fff" stroke-width="0.6">5</text>
<text x="573.0" y="205.8" font-size="12.6" font-weight="normal" fill="#dedede" text-anchor="start" textLength="38.4" lengthAdjust="spacingAndGlyphs">Chest:</text>
<text transform="translate(614.20,205.80) scale(1.05,1)" x="0.25 7.64 17.64 24.78" font-size="12.6" font-weight="bold" fill="#fff">65cm</text>
<text x="573.0" y="221.3" font-size="12.6" font-weight="normal" fill="#dedede" text-anchor="start" textLength="43.8" lengthAdjust="spacingAndGlyphs">Length:</text>
<text transform="translate(620.00,221.35) scale(1.05,1)" x="0.28 7.72 17.61 24.53" font-size="12.6" font-weight="bold" fill="#fff">46cm</text>
<text x="573.0" y="236.9" font-size="12.6" font-weight="normal" fill="#dedede" text-anchor="start" textLength="32.4" lengthAdjust="spacingAndGlyphs">Neck:</text>
<text transform="translate(608.50,236.90) scale(1.05,1)" x="0.32 7.74 17.63 24.65" font-size="12.6" font-weight="bold" fill="#fff">45cm</text>
<rect x="590.0" y="245.7" width="53.5" height="19.3" rx="5" ry="5" fill="#FF6B00"/>
<text x="616.8" y="259.6" font-size="11.9" font-weight="bold" fill="#fff" text-anchor="middle" textLength="21.6" lengthAdjust="spacingAndGlyphs">CM</text>
<rect x="678.8" y="89.1" width="97" height="166.0" rx="14.2" ry="14.2" fill="#222222"/>
<use href="#d6" transform="translate(0,0.0)"/>
<circle cx="685.0" cy="97.1" r="12.7" fill="#FF6B00"/>
<text x="685.4" y="104.7" font-size="22.6" font-weight="normal" fill="#fff" text-anchor="middle" textLength="13.2" lengthAdjust="spacingAndGlyphs" stroke="#fff" stroke-width="0.6">6</text>
<text x="686.5" y="205.8" font-size="12.6" font-weight="normal" fill="#dedede" text-anchor="start" textLength="38.4" lengthAdjust="spacingAndGlyphs">Chest:</text>
<text transform="translate(727.70,205.80) scale(1.05,1)" x="-0.32 6.27 15.76 22.47" font-size="12.6" font-weight="bold" fill="#fff">72cm</text>
<text x="686.5" y="221.3" font-size="12.6" font-weight="normal" fill="#dedede" text-anchor="start" textLength="43.8" lengthAdjust="spacingAndGlyphs">Length:</text>
<text transform="translate(733.50,221.35) scale(1.05,1)" x="0.02 14.21 21.05" font-size="12.6" font-weight="bold" fill="#fff">5cm</text>
<path d="M741.45,212.33H745.05V221.35H743.05V214.23H741.45Z" fill="#fff"/>
<text x="686.5" y="236.9" font-size="12.6" font-weight="normal" fill="#dedede" text-anchor="start" textLength="32.4" lengthAdjust="spacingAndGlyphs">Neck:</text>
<text transform="translate(722.00,236.90) scale(1.05,1)" x="0.06 7.47 17.56 24.51" font-size="12.6" font-weight="bold" fill="#fff">50cm</text>
<rect x="701.0" y="245.7" width="53.5" height="19.3" rx="5" ry="5" fill="#FF6B00"/>
<text x="727.8" y="259.6" font-size="11.9" font-weight="bold" fill="#fff" text-anchor="middle" textLength="21.6" lengthAdjust="spacingAndGlyphs">CM</text>
<rect x="791.9" y="89.1" width="97" height="166.0" rx="14.2" ry="14.2" fill="#222222"/>
<use href="#d7" transform="translate(0,0.0)"/>
<circle cx="800.1" cy="97.3" r="12.7" fill="#FF6B00"/>
<text x="800.5" y="104.9" font-size="22.6" font-weight="normal" fill="#fff" text-anchor="middle" textLength="13.2" lengthAdjust="spacingAndGlyphs" stroke="#fff" stroke-width="0.6">7</text>
<text x="799.7" y="205.8" font-size="12.6" font-weight="normal" fill="#dedede" text-anchor="start" textLength="38.4" lengthAdjust="spacingAndGlyphs">Chest:</text>
<text transform="translate(840.90,205.80) scale(1.05,1)" x="0.19 7.75 17.88 24.87" font-size="12.6" font-weight="bold" fill="#fff">80cm</text>
<text x="799.7" y="221.3" font-size="12.6" font-weight="normal" fill="#dedede" text-anchor="start" textLength="43.8" lengthAdjust="spacingAndGlyphs">Length:</text>
<text transform="translate(846.70,221.35) scale(1.05,1)" x="0.16 7.32 17.04 23.96" font-size="12.6" font-weight="bold" fill="#fff">62cm</text>
<text x="799.7" y="236.9" font-size="12.6" font-weight="normal" fill="#dedede" text-anchor="start" textLength="32.4" lengthAdjust="spacingAndGlyphs">Neck:</text>
<text transform="translate(835.20,236.90) scale(1.05,1)" x="0.09 7.40 17.42 24.46" font-size="12.6" font-weight="bold" fill="#fff">58cm</text>
<rect x="813.5" y="245.7" width="53.5" height="19.3" rx="5" ry="5" fill="#FF6B00"/>
<text x="840.2" y="259.6" font-size="11.9" font-weight="bold" fill="#fff" text-anchor="middle" textLength="21.6" lengthAdjust="spacingAndGlyphs">CM</text>
<rect x="903.0" y="89.1" width="96.3" height="166.0" rx="14.2" ry="14.2" fill="#222222"/>
<use href="#d8" transform="translate(0,0.0)"/>
<circle cx="908.7" cy="96.8" r="12.7" fill="#FF6B00"/>
<text x="909.1" y="104.4" font-size="22.6" font-weight="normal" fill="#fff" text-anchor="middle" textLength="13.2" lengthAdjust="spacingAndGlyphs" stroke="#fff" stroke-width="0.6">8</text>
<text x="908.5" y="205.8" font-size="12.6" font-weight="normal" fill="#dedede" text-anchor="start" textLength="38.4" lengthAdjust="spacingAndGlyphs">Chest:</text>
<text transform="translate(949.70,205.80) scale(1.05,1)" x="0.16 7.32 17.04 23.96" font-size="12.6" font-weight="bold" fill="#fff">92cm</text>
<text x="908.5" y="221.3" font-size="12.6" font-weight="normal" fill="#dedede" text-anchor="start" textLength="43.8" lengthAdjust="spacingAndGlyphs">Length:</text>
<text transform="translate(955.50,221.35) scale(1.05,1)" x="-0.23 6.55 16.31 23.27" font-size="12.6" font-weight="bold" fill="#fff">72cm</text>
<text x="908.5" y="236.9" font-size="12.6" font-weight="normal" fill="#dedede" text-anchor="start" textLength="32.4" lengthAdjust="spacingAndGlyphs">Neck:</text>
<text transform="translate(944.00,236.90) scale(1.05,1)" x="0.19 7.56 17.52 24.49" font-size="12.6" font-weight="bold" fill="#fff">66cm</text>
<rect x="927.5" y="245.7" width="53.5" height="19.3" rx="5" ry="5" fill="#FF6B00"/>
<text x="954.2" y="259.6" font-size="11.9" font-weight="bold" fill="#fff" text-anchor="middle" textLength="21.6" lengthAdjust="spacingAndGlyphs">CM</text>
<rect x="5.2" y="308.1" width="97" height="166.0" rx="14.2" ry="14.2" fill="#222222"/>
<use href="#d0" transform="translate(0,219.6)"/>
<circle cx="12.3" cy="316.0" r="12.7" fill="#E2001A"/>
<text x="12.7" y="323.6" font-size="22.6" font-weight="normal" fill="#fff" text-anchor="middle" textLength="13.2" lengthAdjust="spacingAndGlyphs" stroke="#fff" stroke-width="0.6">0</text>
<text x="13.9" y="424.8" font-size="12.6" font-weight="normal" fill="#dedede" text-anchor="start" textLength="38.4" lengthAdjust="spacingAndGlyphs">Chest:</text>
<text transform="translate(55.10,424.80) scale(1.05,1)" x="3.91 10.65 13.89 20.92" font-size="12.6" font-weight="bold" fill="#fff">3.38</text>
<path d="M55.12,415.78H58.72V424.80H56.72V417.68H55.12Z" fill="#fff"/>
<text x="13.9" y="440.4" font-size="12.6" font-weight="normal" fill="#dedede" text-anchor="start" textLength="43.8" lengthAdjust="spacingAndGlyphs">Length:</text>
<text transform="translate(60.90,440.35) scale(1.05,1)" x="0.04 6.86 10.29 17.60" font-size="12.6" font-weight="bold" fill="#fff">9.44</text>
<text x="13.9" y="455.9" font-size="12.6" font-weight="normal" fill="#dedede" text-anchor="start" textLength="32.4" lengthAdjust="spacingAndGlyphs">Neck:</text>
<text transform="translate(49.40,455.90) scale(1.05,1)" x="-0.01 6.73 10.07 17.28" font-size="12.6" font-weight="bold" fill="#fff">9.44</text>
<rect x="27.5" y="464.7" width="53.5" height="19.3" rx="5" ry="5" fill="#E2001A"/>
<text x="54.2" y="478.6" font-size="11.9" font-weight="bold" fill="#fff" text-anchor="middle" textLength="31.8" lengthAdjust="spacingAndGlyphs">INCH</text>
<rect x="118.5" y="308.1" width="97" height="166.0" rx="14.2" ry="14.2" fill="#222222"/>
<use href="#d1" transform="translate(0,219.6)"/>
<circle cx="126.2" cy="316.2" r="12.7" fill="#E2001A"/>
<path d="M122.95,309.10H128.15V324.90H125.05V311.45H122.95Z" fill="#fff"/>
<text x="127.5" y="424.8" font-size="12.6" font-weight="normal" fill="#dedede" text-anchor="start" textLength="38.4" lengthAdjust="spacingAndGlyphs">Chest:</text>
<text transform="translate(168.70,424.80) scale(1.05,1)" x="4.05 10.88 14.21 21.26" font-size="12.6" font-weight="bold" fill="#fff">5.35</text>
<path d="M168.77,415.78H172.37V424.80H170.37V417.68H168.77Z" fill="#fff"/>
<text x="127.5" y="440.4" font-size="12.6" font-weight="normal" fill="#dedede" text-anchor="start" textLength="43.8" lengthAdjust="spacingAndGlyphs">Length:</text>
<text transform="translate(174.50,440.35) scale(1.05,1)" x="4.14 11.14 14.46 21.40" font-size="12.6" font-weight="bold" fill="#fff">0.62</text>
<path d="M174.51,431.33H178.11V440.35H176.11V433.23H174.51Z" fill="#fff"/>
<text x="127.5" y="455.9" font-size="12.6" font-weight="normal" fill="#dedede" text-anchor="start" textLength="32.4" lengthAdjust="spacingAndGlyphs">Neck:</text>
<text transform="translate(163.00,455.90) scale(1.05,1)" x="4.14 11.14 14.46 21.40" font-size="12.6" font-weight="bold" fill="#fff">0.62</text>
<path d="M163.01,446.88H166.61V455.90H164.61V448.78H163.01Z" fill="#fff"/>
<rect x="143.3" y="464.7" width="53.5" height="19.3" rx="5" ry="5" fill="#E2001A"/>
<text x="170.1" y="478.6" font-size="11.9" font-weight="bold" fill="#fff" text-anchor="middle" textLength="31.8" lengthAdjust="spacingAndGlyphs">INCH</text>
<rect x="231.3" y="308.1" width="97" height="166.0" rx="14.2" ry="14.2" fill="#222222"/>
<use href="#d2" transform="translate(0,219.6)"/>
<circle cx="238.0" cy="316.9" r="12.7" fill="#E2001A"/>
<text x="238.4" y="324.5" font-size="22.6" font-weight="normal" fill="#fff" text-anchor="middle" textLength="13.2" lengthAdjust="spacingAndGlyphs" stroke="#fff" stroke-width="0.6">2</text>
<text x="240.7" y="424.8" font-size="12.6" font-weight="normal" fill="#dedede" text-anchor="start" textLength="38.4" lengthAdjust="spacingAndGlyphs">Chest:</text>
<text transform="translate(281.90,424.80) scale(1.05,1)" x="3.84 10.58" font-size="12.6" font-weight="bold" fill="#fff">8.</text>
<path d="M281.87,415.78H285.47V424.80H283.47V417.68H281.87ZM296.89,415.78H300.49V424.80H298.49V417.68H296.89ZM301.43,415.78H305.03V424.80H303.03V417.68H301.43Z" fill="#fff"/>
<text x="240.7" y="440.4" font-size="12.6" font-weight="normal" fill="#dedede" text-anchor="start" textLength="43.8" lengthAdjust="spacingAndGlyphs">Length:</text>
<text transform="translate(287.70,440.35) scale(1.05,1)" x="3.88 10.59 13.85 20.91" font-size="12.6" font-weight="bold" fill="#fff">2.59</text>
<path d="M287.73,431.33H291.33V440.35H289.33V433.23H287.73Z" fill="#fff"/>
<text x="240.7" y="455.9" font-size="12.6" font-weight="normal" fill="#dedede" text-anchor="start" textLength="32.4" lengthAdjust="spacingAndGlyphs">Neck:</text>
<text transform="translate(276.20,455.90) scale(1.05,1)" x="3.85 10.54 13.79 20.83" font-size="12.6" font-weight="bold" fill="#fff">2.59</text>
<path d="M276.22,446.88H279.82V455.90H277.82V448.78H276.22Z" fill="#fff"/>
<rect x="254.0" y="464.7" width="53.5" height="19.3" rx="5" ry="5" fill="#E2001A"/>
<text x="280.8" y="478.6" font-size="11.9" font-weight="bold" fill="#fff" text-anchor="middle" textLength="31.8" lengthAdjust="spacingAndGlyphs">INCH</text>
<rect x="343.0" y="308.1" width="97" height="166.0" rx="14.2" ry="14.2" fill="#222222"/>
<use href="#d3" transform="translate(0,219.6)"/>
<circle cx="349.4" cy="316.3" r="12.7" fill="#E2001A"/>
<text x="349.8" y="323.9" font-size="22.6" font-weight="normal" fill="#fff" text-anchor="middle" textLength="13.2" lengthAdjust="spacingAndGlyphs" stroke="#fff" stroke-width="0.6">3</text>
<text x="352.0" y="424.8" font-size="12.6" font-weight="normal" fill="#dedede" text-anchor="start" textLength="38.4" lengthAdjust="spacingAndGlyphs">Chest:</text>
<text transform="translate(393.20,424.80) scale(1.05,1)" x="-0.14 6.93 13.90 17.37 24.21" font-size="12.6" font-weight="bold" fill="#fff">20.07</text>
<text x="352.0" y="440.4" font-size="12.6" font-weight="normal" fill="#dedede" text-anchor="start" textLength="43.8" lengthAdjust="spacingAndGlyphs">Length:</text>
<text transform="translate(399.00,440.35) scale(1.05,1)" x="4.10 11.05 14.39 21.51" font-size="12.6" font-weight="bold" fill="#fff">4.96</text>
<path d="M399.01,431.33H402.61V440.35H400.61V433.23H399.01Z" fill="#fff"/>
<text x="352.0" y="455.9" font-size="12.6" font-weight="normal" fill="#dedede" text-anchor="start" textLength="32.4" lengthAdjust="spacingAndGlyphs">Neck:</text>
<text transform="translate(387.50,455.90) scale(1.05,1)" x="4.19 11.19 18.63" font-size="12.6" font-weight="bold" fill="#fff">4.7</text>
<path d="M387.54,446.88H391.14V455.90H389.14V448.78H387.54ZM403.25,446.88H406.85V455.90H404.85V448.78H403.25Z" fill="#fff"/>
<rect x="363.5" y="464.7" width="53.5" height="19.3" rx="5" ry="5" fill="#E2001A"/>
<text x="390.2" y="478.6" font-size="11.9" font-weight="bold" fill="#fff" text-anchor="middle" textLength="31.8" lengthAdjust="spacingAndGlyphs">INCH</text>
<rect x="455.0" y="308.1" width="97" height="166.0" rx="14.2" ry="14.2" fill="#222222"/>
<use href="#d4" transform="translate(0,219.6)"/>
<circle cx="461.2" cy="316.0" r="12.7" fill="#E2001A"/>
<text x="461.6" y="323.6" font-size="22.6" font-weight="normal" fill="#fff" text-anchor="middle" textLength="13.2" lengthAdjust="spacingAndGlyphs" stroke="#fff" stroke-width="0.6">4</text>
<text x="463.5" y="424.8" font-size="12.6" font-weight="normal" fill="#dedede" text-anchor="start" textLength="38.4" lengthAdjust="spacingAndGlyphs">Chest:</text>
<text transform="translate(504.70,424.80) scale(1.05,1)" x="-0.15 6.56 13.17 16.45 23.37" font-size="12.6" font-weight="bold" fill="#fff">22.83</text>
<text x="463.5" y="440.4" font-size="12.6" font-weight="normal" fill="#dedede" text-anchor="start" textLength="43.8" lengthAdjust="spacingAndGlyphs">Length:</text>
<text transform="translate(510.50,440.35) scale(1.05,1)" x="4.03 10.90 18.80" font-size="12.6" font-weight="bold" fill="#fff">6.4</text>
<path d="M510.53,431.33H514.13V440.35H512.13V433.23H510.53ZM525.92,431.33H529.52V440.35H527.52V433.23H525.92Z" fill="#fff"/>
<text x="463.5" y="455.9" font-size="12.6" font-weight="normal" fill="#dedede" text-anchor="start" textLength="32.4" lengthAdjust="spacingAndGlyphs">Neck:</text>
<text transform="translate(499.00,455.90) scale(1.05,1)" x="4.03 10.90 18.80" font-size="12.6" font-weight="bold" fill="#fff">6.4</text>
<path d="M499.03,446.88H502.63V455.90H500.63V448.78H499.03ZM514.42,446.88H518.02V455.90H516.02V448.78H514.42Z" fill="#fff"/>
<rect x="478.5" y="464.7" width="53.5" height="19.3" rx="5" ry="5" fill="#E2001A"/>
<text x="505.2" y="478.6" font-size="11.9" font-weight="bold" fill="#fff" text-anchor="middle" textLength="31.8" lengthAdjust="spacingAndGlyphs">INCH</text>
<rect x="566.9" y="308.1" width="97" height="166.0" rx="14.2" ry="14.2" fill="#222222"/>
<use href="#d5" transform="translate(0,219.6)"/>
<circle cx="573.1" cy="316.1" r="12.7" fill="#E2001A"/>
<text x="573.5" y="323.7" font-size="22.6" font-weight="normal" fill="#fff" text-anchor="middle" textLength="13.2" lengthAdjust="spacingAndGlyphs" stroke="#fff" stroke-width="0.6">5</text>
<text x="575.0" y="424.8" font-size="12.6" font-weight="normal" fill="#dedede" text-anchor="start" textLength="38.4" lengthAdjust="spacingAndGlyphs">Chest:</text>
<text transform="translate(616.20,424.80) scale(1.05,1)" x="-0.09 6.80 13.55 16.81 23.87" font-size="12.6" font-weight="bold" fill="#fff">25.59</text>
<text x="575.0" y="440.4" font-size="12.6" font-weight="normal" fill="#dedede" text-anchor="start" textLength="43.8" lengthAdjust="spacingAndGlyphs">Length:</text>
<text transform="translate(622.00,440.35) scale(1.05,1)" x="3.74 10.42" font-size="12.6" font-weight="bold" fill="#fff">8.</text>
<path d="M621.94,431.33H625.54V440.35H623.54V433.23H621.94ZM636.77,431.33H640.37V440.35H638.37V433.23H636.77ZM641.26,431.33H644.86V440.35H642.86V433.23H641.26Z" fill="#fff"/>
<text x="575.0" y="455.9" font-size="12.6" font-weight="normal" fill="#dedede" text-anchor="start" textLength="32.4" lengthAdjust="spacingAndGlyphs">Neck:</text>
<text transform="translate(610.50,455.90) scale(1.05,1)" x="3.40 9.72 12.55" font-size="12.6" font-weight="bold" fill="#fff">7.7</text>
<path d="M610.46,446.88H614.06V455.90H612.06V448.78H610.46ZM631.04,446.88H634.64V455.90H632.64V448.78H631.04Z" fill="#fff"/>
<rect x="588.5" y="464.7" width="53.5" height="19.3" rx="5" ry="5" fill="#E2001A"/>
<text x="615.2" y="478.6" font-size="11.9" font-weight="bold" fill="#fff" text-anchor="middle" textLength="31.8" lengthAdjust="spacingAndGlyphs">INCH</text>
<rect x="678.8" y="308.1" width="97" height="166.0" rx="14.2" ry="14.2" fill="#222222"/>
<use href="#d6" transform="translate(0,219.6)"/>
<circle cx="685.0" cy="316.1" r="12.7" fill="#E2001A"/>
<text x="685.4" y="323.7" font-size="22.6" font-weight="normal" fill="#fff" text-anchor="middle" textLength="13.2" lengthAdjust="spacingAndGlyphs" stroke="#fff" stroke-width="0.6">6</text>
<text x="687.2" y="424.8" font-size="12.6" font-weight="normal" fill="#dedede" text-anchor="start" textLength="38.4" lengthAdjust="spacingAndGlyphs">Chest:</text>
<text transform="translate(728.40,424.80) scale(1.05,1)" x="-0.15 6.73 13.51 16.68 23.72" font-size="12.6" font-weight="bold" fill="#fff">28.34</text>
<text x="687.2" y="440.4" font-size="12.6" font-weight="normal" fill="#dedede" text-anchor="start" textLength="43.8" lengthAdjust="spacingAndGlyphs">Length:</text>
<text transform="translate(734.20,440.35) scale(1.05,1)" x="-0.31 6.38 13.08 16.27 22.76" font-size="12.6" font-weight="bold" fill="#fff">20.07</text>
<text x="687.2" y="455.9" font-size="12.6" font-weight="normal" fill="#dedede" text-anchor="start" textLength="32.4" lengthAdjust="spacingAndGlyphs">Neck:</text>
<text transform="translate(722.70,455.90) scale(1.05,1)" x="3.87 10.63 13.88 20.90" font-size="12.6" font-weight="bold" fill="#fff">9.68</text>
<path d="M722.68,446.88H726.28V455.90H724.28V448.78H722.68Z" fill="#fff"/>
<rect x="701.0" y="464.7" width="53.5" height="19.3" rx="5" ry="5" fill="#E2001A"/>
<text x="727.8" y="478.6" font-size="11.9" font-weight="bold" fill="#fff" text-anchor="middle" textLength="31.8" lengthAdjust="spacingAndGlyphs">INCH</text>
<rect x="791.9" y="308.1" width="97" height="166.0" rx="14.2" ry="14.2" fill="#222222"/>
<use href="#d7" transform="translate(0,219.6)"/>
<circle cx="800.1" cy="316.3" r="12.7" fill="#E2001A"/>
<text x="800.5" y="323.9" font-size="22.6" font-weight="normal" fill="#fff" text-anchor="middle" textLength="13.2" lengthAdjust="spacingAndGlyphs" stroke="#fff" stroke-width="0.6">7</text>
<text x="801.4" y="424.8" font-size="12.6" font-weight="normal" fill="#dedede" text-anchor="start" textLength="38.4" lengthAdjust="spacingAndGlyphs">Chest:</text>
<text transform="translate(842.60,424.80) scale(1.05,1)" x="-0.03 11.18 14.67 21.96" font-size="12.6" font-weight="bold" fill="#fff">3.49</text>
<path d="M850.43,415.78H854.03V424.80H852.03V417.68H850.43Z" fill="#fff"/>
<text x="801.4" y="440.4" font-size="12.6" font-weight="normal" fill="#dedede" text-anchor="start" textLength="43.8" lengthAdjust="spacingAndGlyphs">Length:</text>
<text transform="translate(848.40,440.35) scale(1.05,1)" x="-0.12 6.93 13.86 17.30 24.68" font-size="12.6" font-weight="bold" fill="#fff">24.40</text>
<text x="801.4" y="455.9" font-size="12.6" font-weight="normal" fill="#dedede" text-anchor="start" textLength="32.4" lengthAdjust="spacingAndGlyphs">Neck:</text>
<text transform="translate(836.90,455.90) scale(1.05,1)" x="-0.19 6.43 12.98 16.19 23.04" font-size="12.6" font-weight="bold" fill="#fff">22.83</text>
<rect x="813.5" y="464.7" width="53.5" height="19.3" rx="5" ry="5" fill="#E2001A"/>
<text x="840.2" y="478.6" font-size="11.9" font-weight="bold" fill="#fff" text-anchor="middle" textLength="31.8" lengthAdjust="spacingAndGlyphs">INCH</text>
<rect x="903.0" y="308.1" width="96.3" height="166.0" rx="14.2" ry="14.2" fill="#222222"/>
<use href="#d8" transform="translate(0,219.6)"/>
<circle cx="908.7" cy="315.8" r="12.7" fill="#E2001A"/>
<text x="909.1" y="323.4" font-size="22.6" font-weight="normal" fill="#fff" text-anchor="middle" textLength="13.2" lengthAdjust="spacingAndGlyphs" stroke="#fff" stroke-width="0.6">8</text>
<text x="913.3" y="424.8" font-size="12.6" font-weight="normal" fill="#dedede" text-anchor="start" textLength="38.4" lengthAdjust="spacingAndGlyphs">Chest:</text>
<text transform="translate(954.50,424.80) scale(1.05,1)" x="-0.06 6.93 13.76 16.92 23.68" font-size="12.6" font-weight="bold" fill="#fff">36.22</text>
<text x="913.3" y="440.4" font-size="12.6" font-weight="normal" fill="#dedede" text-anchor="start" textLength="43.8" lengthAdjust="spacingAndGlyphs">Length:</text>
<text transform="translate(960.30,440.35) scale(1.05,1)" x="-0.18 6.63 13.37 16.49 23.47" font-size="12.6" font-weight="bold" fill="#fff">28.34</text>
<text x="913.3" y="455.9" font-size="12.6" font-weight="normal" fill="#dedede" text-anchor="start" textLength="32.4" lengthAdjust="spacingAndGlyphs">Neck:</text>
<text transform="translate(948.80,455.90) scale(1.05,1)" x="-0.09 6.78 13.54 16.90 24.06" font-size="12.6" font-weight="bold" fill="#fff">25.98</text>
<rect x="927.5" y="464.7" width="53.5" height="19.3" rx="5" ry="5" fill="#E2001A"/>
<text x="954.2" y="478.6" font-size="11.9" font-weight="bold" fill="#fff" text-anchor="middle" textLength="31.8" lengthAdjust="spacingAndGlyphs">INCH</text>
<circle cx="180.9" cy="632.9" r="3.0" fill="#FF0000"/>
<circle cx="186.8" cy="626.7" r="3.0" fill="#FF0000"/>
<circle cx="193.7" cy="627.4" r="3.0" fill="#FF0000"/>
<circle cx="190.1" cy="731.5" r="3.0" fill="#FF0000"/>
<circle cx="183.8" cy="728.2" r="3.0" fill="#FF0000"/>
<circle cx="180.2" cy="722.0" r="3.0" fill="#FF0000"/>
<circle cx="225.3" cy="618.6" r="1.6" fill="#FF0000"/>
<circle cx="228.6" cy="614.2" r="1.6" fill="#FF0000"/>
<circle cx="233.3" cy="613.3" r="1.6" fill="#FF0000"/>
<circle cx="289.8" cy="638.0" r="1.6" fill="#FF0000"/>
<circle cx="289.8" cy="633.3" r="1.6" fill="#FF0000"/>
<circle cx="286.1" cy="629.6" r="1.6" fill="#FF0000"/>
<path d="M177.9,635.2C184.3,634.3 186.2,633.3 191.2,632.2C196.2,631.1 202.8,629.8 208.1,628.5C213.4,627.2 219.3,625.8 223,624.3C226.7,622.8 227.8,621.7 230,619.5C232.2,617.3 234.7,614.1 236.4,611.3C238.1,608.4 239.1,605.8 240.2,602.4C241.2,599 242.3,594.9 242.7,590.9C243.1,586.9 242.1,581.8 242.5,578.2C242.9,574.6 243.8,572 245.3,569.3C246.8,566.5 248.8,564 251.6,561.7C254.3,559.4 258.4,557.5 261.8,555.3C265.2,553.1 268.9,549.8 271.9,548.3C274.9,546.8 276.8,546.5 279.6,546.4C282.4,546.3 285.3,546.7 288.5,547.7C291.7,548.7 295.6,550.6 298.6,552.2C301.6,553.8 304.4,555.5 306.3,557.2C308.2,558.9 309.1,560.7 309.8,562.3C310.5,563.9 310,565.6 310.7,566.8C311.4,568 311.2,568.3 313.9,569.6C316.5,570.9 322.6,572.9 326.6,574.4C330.6,575.9 335.4,577.6 338,578.9C340.6,580.2 341.6,580.9 342.5,582C343.4,583.1 343.6,584.3 343.4,585.8C343.2,587.3 342.3,589 341.2,590.9C340.1,592.8 338.6,595.2 336.8,597.3C335,599.4 332.7,601.9 330.4,603.6C328.1,605.3 324.6,606.6 322.8,607.5C321,608.4 320.5,608.1 319.6,608.7C318.8,609.3 318.9,610.5 317.7,611.3C316.5,612.1 314.3,613.3 312.6,613.6C310.9,613.9 309.4,613.7 307.5,613.2C305.6,612.7 303.1,611.4 301.2,610.6C299.3,609.9 297.6,608.4 296.1,608.7C294.6,609 293.6,610.8 292.3,612.5C291,614.2 289.6,616.6 288.5,618.9C287.4,621.2 286.6,623.5 285.9,626.5C285.1,629.5 284.4,633.3 284,636.7C283.6,640.1 283.3,642.1 283.4,646.9C283.5,651.7 284.4,659 284.4,665.6C284.4,672.2 284.4,680.1 283.3,686.8C282.2,693.5 279.6,701 278,705.8C276.4,710.6 275,713 273.5,715.5C272,718 270.4,719.5 269.2,720.8C268,722.1 267,722.6 266.2,723.2C265.4,723.8 265,723.7 264.6,724.6C264.2,725.5 264.3,726.9 264.1,728.5C263.9,730.1 263.7,731.9 263.4,734C263.1,736.1 263.6,736.6 262.5,741C261.4,745.4 258.2,754.4 256.8,760.1C255.4,765.8 254.7,769.6 253.9,775.3C253.1,781 252.6,788.7 252,794.4C251.4,800.1 249.9,806.1 250.1,809.7C250.3,813.4 251.2,814.7 253,816.3C254.8,817.9 258.5,817.8 260.6,819.2C262.7,820.6 264.9,822.7 265.4,824.9C265.9,827.1 266.2,831.3 263.5,832.6C260.8,833.9 252.5,833.2 249.2,832.6C245.8,832 244.5,831.2 243.4,828.7C242.3,826.2 243.3,821.8 242.5,817.3C241.7,812.8 240.1,805.5 238.7,802C237.3,798.5 234.7,798.2 233.9,796.3C233.1,794.4 233.4,792.4 233.9,790.6C234.4,788.9 236.3,790.9 236.8,785.8C237.3,780.7 237.6,762.5 236.8,760.1C236,757.7 233.4,766.4 232,771.5C230.6,776.6 229.3,784.2 228.2,790.6C227.1,797 225.3,804 225.3,809.7C225.3,815.4 226.9,820.6 228.2,824.9C229.5,829.2 230.9,832.8 233,835.4C235.1,838 239,838.8 240.6,840.2C242.2,841.6 243,842.9 242.5,844C242,845.1 240.4,846.6 237.7,846.9C235,847.2 229,845.8 226.3,845.9C223.6,846 223.2,848.1 221.5,847.8C219.8,847.5 217.4,846.9 215.8,844C214.2,841.1 212.8,834.9 212,830.6C211.2,826.3 211.9,821.5 211,818.3C210.1,815.1 206.9,814 206.3,811.6C205.7,809.2 206.6,806.2 207.2,804C207.8,801.8 209.3,803 210.1,798.2C210.9,793.4 211.4,782.9 212,775.3C212.6,767.7 213.4,759.2 213.9,752.5C214.4,745.8 215.3,738.6 214.8,735.3C214.3,731.9 213.8,733.7 211,732.4C208.2,731.1 203.1,729.6 197.7,727.7C192.3,725.8 184,722.9 178.6,721C173.2,719.1 171.2,718.4 165.2,716.6C159.1,714.8 149.1,711.7 142.3,710.2C135.5,708.7 129.6,707.7 124.5,707.7C119.4,707.7 115.3,708.9 111.8,710.2C108.3,711.5 105.4,712.5 103.7,715.3C102,718 103.3,723.1 101.7,726.7C100.1,730.3 97.4,733.9 94,736.9C90.6,739.9 86.4,741.3 81.3,744.5C76.2,747.7 68.6,752 63.5,756C58.4,760 53.5,765.3 50.8,768.7C48,772.1 47,773.3 47,776.3C47,779.3 48.7,783.5 50.8,786.5C52.9,789.5 57.5,792 59.7,794.1C61.9,796.2 63.6,797.7 64,799.2C64.4,800.7 63.9,802.2 62.3,803C60.7,803.8 57.4,804.4 54.6,804.2C51.8,804 47.6,803.2 45.7,801.7C43.8,800.2 44.2,799 43.2,795.3C42.2,791.6 42.4,780 39.4,779.6C36.4,779.2 28.4,788.9 25.4,792.8C22.4,796.7 21.9,797.9 21.6,803C21.3,808.1 22.3,818.9 23.4,823.3C24.5,827.7 26.9,827.3 28,829.6C29.1,831.9 30.4,835.3 30,837.3C29.6,839.3 27.4,840.5 25.4,841.6C23.4,842.7 19.9,844.1 17.8,844.1C15.7,844.1 14.6,842.5 12.7,841.6C10.8,840.7 7.7,840.3 6.4,838.5C5.1,836.7 5,833.4 5.1,830.9C5.2,828.4 6.5,827.9 7.1,823.3C7.7,818.6 8.5,809.8 8.9,803C9.3,796.2 9.3,787.4 9.7,782.6C10.1,777.9 8.8,777 11.4,774.5C14,772 21.8,769.9 25.4,767.4C29,764.9 30.4,763.4 33,759.8C35.5,756.2 38.4,750.5 40.7,745.8C43,741.1 45.3,736.7 47,731.8C48.7,726.9 49.9,722.5 50.8,716.6C51.6,710.7 52.1,701.7 52.1,696.2C52.1,690.7 51,687.7 50.8,683.5C50.6,679.3 51.6,672.4 50.8,670.8C49.9,669.2 47.8,673.5 45.7,673.9C43.6,674.2 39.9,673.8 38.1,672.9C36.3,672 35.1,669.7 35.1,668.3C35.1,666.9 36.3,665.6 38.1,664.5C39.9,663.4 42.7,662.8 45.7,661.9C48.7,661 50.8,661.3 55.9,659.4C61,657.5 68.6,653 76.2,650.5C83.8,648 93.2,645.8 101.7,644.1C110.2,642.4 118.6,641.3 127.1,640.3C135.6,639.2 144,638.6 152.5,637.8C161,636.9 171.5,636.1 177.9,635.2Z" fill="#222222"/>
<circle cx="199.2" cy="634.0" r="3.0" fill="#FF0000"/>
<circle cx="202.5" cy="642.8" r="3.0" fill="#FF0000"/>
<circle cx="204.7" cy="652.0" r="3.0" fill="#FF0000"/>
<circle cx="206.2" cy="661.5" r="3.0" fill="#FF0000"/>
<circle cx="207.1" cy="671.0" r="3.0" fill="#FF0000"/>
<circle cx="207.1" cy="680.6" r="3.0" fill="#FF0000"/>
<circle cx="206.6" cy="690.1" r="3.0" fill="#FF0000"/>
<circle cx="205.8" cy="700.0" r="3.0" fill="#FF0000"/>
<circle cx="204.0" cy="709.9" r="3.0" fill="#FF0000"/>
<circle cx="201.1" cy="719.4" r="3.0" fill="#FF0000"/>
<circle cx="196.3" cy="727.1" r="3.0" fill="#FF0000"/>
<circle cx="226.7" cy="623.4" r="1.6" fill="#FF0000"/>
<circle cx="230.4" cy="627.8" r="1.6" fill="#FF0000"/>
<circle cx="235.5" cy="631.8" r="1.6" fill="#FF0000"/>
<circle cx="241.0" cy="634.7" r="1.6" fill="#FF0000"/>
<circle cx="246.9" cy="637.1" r="1.6" fill="#FF0000"/>
<circle cx="253.1" cy="639.3" r="1.6" fill="#FF0000"/>
<circle cx="259.2" cy="641.0" r="1.6" fill="#FF0000"/>
<circle cx="265.4" cy="642.1" r="1.6" fill="#FF0000"/>
<circle cx="271.5" cy="642.8" r="1.6" fill="#FF0000"/>
<circle cx="278.1" cy="642.8" r="1.6" fill="#FF0000"/>
<circle cx="284.3" cy="641.3" r="1.6" fill="#FF0000"/>
<line x1="46.6" y1="588.4" x2="208" y2="589.3" stroke="#FF0000" stroke-width="1.1"/>
<polyline points="204.9,591.9 208,589.3 204.9,586.7" fill="none" stroke="#FF0000" stroke-width="1.1" stroke-linecap="round" stroke-linejoin="round"/>
<polyline points="49.7,585.8 46.6,588.4 49.7,591.0" fill="none" stroke="#FF0000" stroke-width="1.1" stroke-linecap="round" stroke-linejoin="round"/>
<line x1="295.3" y1="640.6" x2="311.4" y2="640.6" stroke="#FF0000" stroke-width="1.1"/>
<polyline points="308.3,643.2 311.4,640.6 308.3,638.0" fill="none" stroke="#FF0000" stroke-width="1.1" stroke-linecap="round" stroke-linejoin="round"/>
<line x1="214.6" y1="664.4" x2="307" y2="721.4" stroke="#FF0000" stroke-width="1.1"/>
<polyline points="303.0,722.0 307,721.4 305.7,717.6" fill="none" stroke="#FF0000" stroke-width="1.1" stroke-linecap="round" stroke-linejoin="round"/>
<text transform="translate(99.2,580.0) scale(1.07,1)" font-size="15.2" font-weight="normal" fill="#111" textLength="51.2" lengthAdjust="spacing" stroke="#111" stroke-width="0.08">Length</text>
<text transform="translate(317.6,645.7) scale(1.05,1)" font-size="15.2" font-weight="normal" fill="#111" textLength="37.5" lengthAdjust="spacing" stroke="#111" stroke-width="0.08">Neck</text>
<text transform="translate(312.9,726.9) scale(1.07,1)" font-size="15.2" font-weight="normal" fill="#111" textLength="44.1" lengthAdjust="spacing" stroke="#111" stroke-width="0.08">Chest</text>
<text transform="translate(393.6,651.0) scale(1.08,1)" font-size="16.2" font-weight="bold" fill="#111" textLength="545.9" lengthAdjust="spacing" stroke="#111" stroke-width="0.45">Please, follow the instructions below to find your dog’s correct size.</text>
<path d="M392.10,667.30H395.20V678.00H393.50V668.80H392.10Z" fill="#111"/>
<rect x="397.9" y="676.2" width="1.8" height="1.8" rx="0.5" fill="#111"/>
<text transform="translate(405.6,678.0) scale(1.08,1)" font-size="15.3" font-weight="normal" fill="#111" textLength="468.8" lengthAdjust="spacing">Below the visuals, you can find the chest, back length and neck</text>
<text transform="translate(392.0,695.4) scale(1.08,1)" font-size="15.3" font-weight="normal" fill="#111" textLength="234.6" lengthAdjust="spacing">measurements of our products.</text>
<text transform="translate(391.4,725.9) scale(1.08,1)" font-size="15.3" font-weight="normal" fill="#111" textLength="12.4" lengthAdjust="spacing">2.</text>
<text transform="translate(409.2,725.9) scale(1.08,1)" font-size="15.3" font-weight="normal" fill="#111" textLength="524.7" lengthAdjust="spacing">For your dog’s comfort, please be mindful there must be little distance</text>
<text transform="translate(392.2,743.4) scale(1.08,1)" font-size="15.3" font-weight="normal" fill="#111" textLength="451.7" lengthAdjust="spacing">between your dog’s body and clothing during measurement.</text>
<rect x="429.9" y="870" width="147.2" height="2" fill="#919191"/>
<rect x="429.9" y="925.9" width="147.2" height="1.1" fill="#6a6a6a"/>
<g fill="#262626">
<rect x="433.05" y="882.00" width="5.20" height="32.90"/>
<rect x="429.50" y="882.00" width="12.60" height="0.95"/>
<rect x="429.50" y="913.95" width="24.50" height="0.95"/>
<path d="M453.2,903.9 L454.1,903.9 L454.1,914.9 L445.5,914.9 Q452.3,913.6 453.2,903.9Z"/>
<rect x="464.50" y="882.00" width="5.25" height="32.90"/>
<rect x="461.00" y="882.00" width="12.20" height="0.95"/>
<rect x="461.00" y="913.95" width="12.20" height="0.95"/>
<rect x="480.60" y="882.00" width="9.20" height="0.95"/>
<rect x="484.00" y="882.00" width="0.95" height="32.90"/>
<rect x="480.40" y="913.95" width="9.40" height="0.95"/>
<path d="M484,882 L491.3,882 L504.7,905.5 L504.7,882 L505.65,882 L505.65,915.5 L502.9,915.5Z"/>
<rect x="500.20" y="882.00" width="9.00" height="0.95"/>
<rect x="519.10" y="882.00" width="5.40" height="32.90"/>
<rect x="516.20" y="882.00" width="9.80" height="0.95"/>
<rect x="516.20" y="913.95" width="9.80" height="0.95"/>
<path fill-rule="evenodd" d="M524.5,882 L529.2,882 C538.4,882 543.3,889.3 543.3,898.45 C543.3,907.6 538.4,914.9 529.2,914.9 L524.5,914.9Z M524.5,882.95 L527.3,882.95 C533.6,882.95 536.9,889.3 536.9,898.45 C536.9,907.6 533.6,913.95 527.3,913.95 L524.5,913.95Z"/>
<path fill-rule="evenodd" d="M564.35,881.5 C571.5,881.5 577.25,889.2 577.25,898.6 C577.25,908 571.5,915.7 564.35,915.7 C557.2,915.7 551.45,908 551.45,898.6 C551.45,889.2 557.2,881.5 564.35,881.5Z M564.35,882.6 C560.6,882.6 557.6,889.8 557.6,898.6 C557.6,907.4 560.6,914.6 564.35,914.6 C568.1,914.6 571.1,907.4 571.1,898.6 C571.1,889.8 568.1,882.6 564.35,882.6Z"/>
</g>
<circle cx="448.5" cy="938.6" r="1.45" fill="#333"/><circle cx="558.4" cy="938.6" r="1.45" fill="#333"/>
<text x="459.9" y="940.9" font-size="12.2" fill="#333" class="serif" textLength="87.2" lengthAdjust="spacing">pet clothing</text>
</svg></body></html>
